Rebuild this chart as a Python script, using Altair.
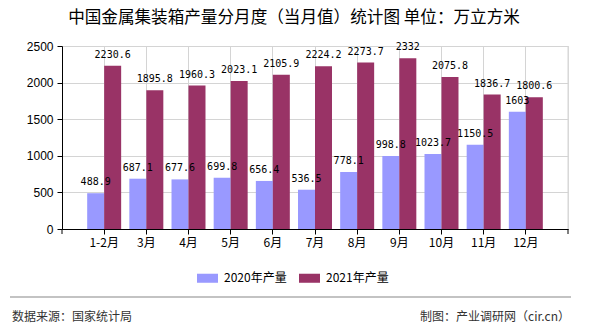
import altair as alt
import pandas as pd

months = ["1-2月", "3月", "4月", "5月", "6月", "7月", "8月", "9月", "10月", "11月", "12月"]
v2020 = [488.9, 687.1, 677.6, 699.8, 656.4, 536.5, 778.1, 998.8, 1023.7, 1150.5, 1603]
v2021 = [2230.6, 1895.8, 1960.3, 2023.1, 2105.9, 2224.2, 2273.7, 2332, 2075.8, 1836.7, 1800.6]
series = ["2020年产量", "2021年产量"]
colors = ["#9999FF", "#993366"]
y_ticks = [0, 500, 1000, 1500, 2000, 2500]
title_text = "中国金属集装箱产量分月度（当月值）统计图 单位：万立方米"
source_text = "数据来源：国家统计局"
credit_text = "制图：产业调研网（cir.cn）"

rows = []
for m, a, b in zip(months, v2020, v2021):
    rows.append({"月份": m, "系列": series[0], "产量": a})
    rows.append({"月份": m, "系列": series[1], "产量": b})
df = pd.DataFrame(rows)

W, H = 506, 183
CJK = "Noto Sans CJK SC"
SYM = "M-1,-0.43H1V0.43H-1Z"

x_scale = alt.Scale(domain=months, paddingInner=0.194, paddingOuter=0.597)
y_scale = alt.Scale(domain=[0, 2500], nice=False)
x_axis = alt.Axis(title=None, labelAngle=0, bandPosition=0.5, grid=True,
                  gridColor="#d4d4d4", domainColor="#000", tickColor="#000",
                  tickSize=5, labelPadding=3, labelFont=CJK, labelFontSize=12,
                  labelColor="#000")
y_axis = alt.Axis(title=None, values=y_ticks, tickCount=6, format="d", labelOverlap=False,
                  gridColor="#d4d4d4", domainColor="#000", tickColor="#000",
                  tickSize=5, labelPadding=4, labelFont="Liberation Sans",
                  labelFontSize=12, labelColor="#000")
x_enc = alt.X("月份:N", sort=months, scale=x_scale, axis=x_axis)
y_enc = alt.Y("产量:Q", scale=y_scale, axis=y_axis)
xoff = alt.XOffset("系列:N", sort=series, scale=alt.Scale(domain=series))

base = alt.Chart(df)
bars = base.mark_bar().encode(
    x=x_enc, y=y_enc, xOffset=xoff,
    color=alt.Color("系列:N", scale=alt.Scale(domain=series, range=colors),
                    legend=alt.Legend(title=None, orient="none", direction="horizontal",
                                      legendX=135, legendY=221.5, padding=0,
                                      symbolType=SYM, symbolSize=441, symbolStrokeWidth=0,
                                      symbolOpacity=1, labelOffset=6,
                                      columnPadding=12, labelFont=CJK,
                                      labelFontSize=12, labelColor="#000")),
)
labels = base.mark_text(font="DejaVu Sans Mono", fontSize=10, baseline="alphabetic",
                        dy=-8, color="#000").encode(
    x=x_enc, y=y_enc, xOffset=xoff,
    text=alt.Text("产量:Q", format=".1~f"),
)

one = pd.DataFrame({"t": [title_text]})
right_grid = alt.Chart(one).mark_rule(color="#d4d4d4").encode(
    x=alt.value(W), y=alt.value(0), y2=alt.value(H))
edge_ticks = alt.Chart(pd.DataFrame({"p": [0, W]})).mark_rule(color="#000").encode(
    x=alt.X("p:Q", scale=None), y=alt.value(H), y2=alt.value(H + 5))
title = alt.Chart(one).mark_text(font=CJK, fontSize=16.6, color="#000", align="center",
                                 baseline="middle").encode(
    x=alt.value(232), y=alt.value(-28), text="t:N")
sep = alt.Chart(one).mark_rule(color="#888", strokeWidth=1.2).encode(
    x=alt.value(-52), x2=alt.value(509), y=alt.value(251))
src = alt.Chart(pd.DataFrame({"t": [source_text]})).mark_text(
    font=CJK, fontSize=12, color="#333", align="left", baseline="middle").encode(
    x=alt.value(-50), y=alt.value(271), text="t:N")
cred = alt.Chart(pd.DataFrame({"t": [credit_text]})).mark_text(
    font=CJK, fontSize=12, color="#333", align="right", baseline="middle").encode(
    x=alt.value(508), y=alt.value(271), text="t:N")

chart = alt.layer(bars, labels, right_grid, edge_ticks, title, sep, src, cred).properties(
    width=W, height=H,
    autosize=alt.AutoSizeParams(type="none"),
    padding={"left": 62, "top": 46, "right": 22, "bottom": 101},
).configure_view(stroke=None).configure(background="white")

chart.save("out.html", embed_options={"renderer": "svg", "actions": False})
